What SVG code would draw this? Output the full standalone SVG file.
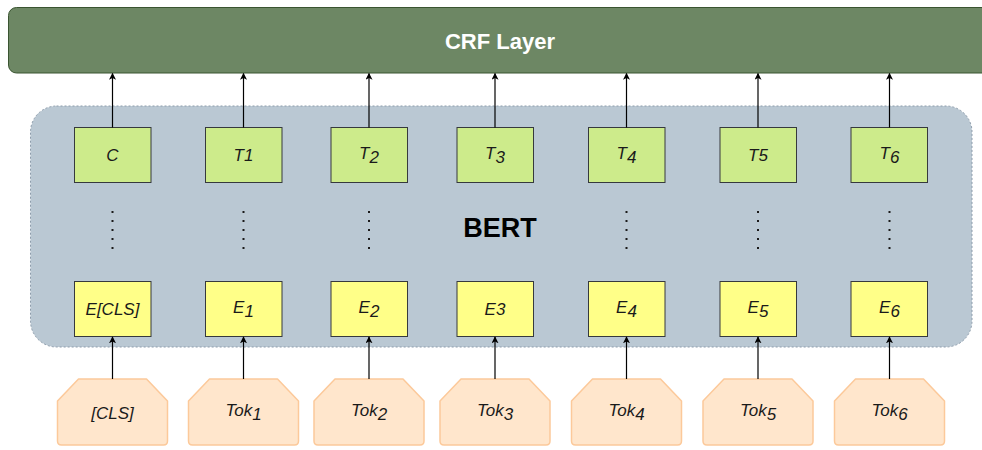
<svg xmlns="http://www.w3.org/2000/svg" width="982" height="450" viewBox="0 0 982 450">
<style>
.lbl{font-family:"Liberation Sans",Arial,sans-serif;font-style:italic;font-size:17px;fill:#1a1a1a;text-anchor:middle}
.t{fill:#cdeb8b;stroke:#36393d;stroke-width:1}
.e{fill:#ffff88;stroke:#36393d;stroke-width:1}
.tok{fill:#ffe6cc;stroke:#fcc99a;stroke-width:1.5;stroke-linejoin:round}
.conn{stroke:#000;stroke-width:1.2;fill:none;marker-end:url(#ah)}
.dots{stroke:#1a1a1a;stroke-width:2;stroke-dasharray:2 7;fill:none}
</style>
<defs>
<marker id="ah" viewBox="0 0 10 10" refX="9" refY="5" markerWidth="7" markerHeight="7" markerUnits="userSpaceOnUse" orient="auto">
<path d="M0,0 L10,5 L0,10 L2.5,5 Z" fill="#000"/>
</marker>
</defs>
<rect width="982" height="450" fill="#fff"/>
<g id="crf">
<rect x="8.5" y="7.5" width="990" height="65.5" rx="8" fill="#6d8764" stroke="#3a5431" stroke-width="1"/>
<text x="500" y="49" font-family="'Liberation Sans',Arial,sans-serif" font-weight="bold" font-size="22" fill="#fff" text-anchor="middle">CRF Layer</text>
</g>
<g id="bert">
<rect x="30.5" y="106" width="941.5" height="241" rx="26" fill="#bac8d3" stroke="#8d9cab" stroke-width="1" stroke-dasharray="2 2"/>
<text x="500" y="237" font-family="'Liberation Sans',Arial,sans-serif" font-weight="bold" font-size="27" fill="#000" text-anchor="middle">BERT</text>
</g>
<g id="dots">
<line class="dots" x1="112.5" y1="211" x2="112.5" y2="249"/>
<line class="dots" x1="243.5" y1="211" x2="243.5" y2="249"/>
<line class="dots" x1="369" y1="211" x2="369" y2="249"/>
<line class="dots" x1="626.5" y1="211" x2="626.5" y2="249"/>
<line class="dots" x1="758" y1="211" x2="758" y2="249"/>
<line class="dots" x1="889.5" y1="211" x2="889.5" y2="249"/>
</g>
<g id="t-c"><rect class="t" x="74.5" y="127.5" width="76.5" height="55"/><text class="lbl" x="112.5" y="161">C</text></g>
<g id="t-1"><rect class="t" x="205.5" y="127.5" width="76.5" height="55"/><text class="lbl" x="243.5" y="161">T1</text></g>
<g id="t-2"><rect class="t" x="331" y="127.5" width="76.5" height="55"/><text class="lbl" x="369" y="159">T<tspan dy="4">2</tspan></text></g>
<g id="t-3"><rect class="t" x="457" y="127.5" width="76.5" height="55"/><text class="lbl" x="495" y="159">T<tspan dy="4">3</tspan></text></g>
<g id="t-4"><rect class="t" x="588.5" y="127.5" width="76.5" height="55"/><text class="lbl" x="626.5" y="159">T<tspan dy="4">4</tspan></text></g>
<g id="t-5"><rect class="t" x="720" y="127.5" width="76.5" height="55"/><text class="lbl" x="758" y="161">T5</text></g>
<g id="t-6"><rect class="t" x="851" y="127.5" width="76.5" height="55"/><text class="lbl" x="889.5" y="159">T<tspan dy="4">6</tspan></text></g>
<g id="e-cls"><rect class="e" x="74.5" y="281.5" width="76.5" height="55"/><text class="lbl" x="112.5" y="314.5">E[CLS]</text></g>
<g id="e-1"><rect class="e" x="205.5" y="281.5" width="76.5" height="55"/><text class="lbl" x="243.5" y="313">E<tspan dy="4">1</tspan></text></g>
<g id="e-2"><rect class="e" x="331" y="281.5" width="76.5" height="55"/><text class="lbl" x="369" y="313">E<tspan dy="4">2</tspan></text></g>
<g id="e-3"><rect class="e" x="457" y="281.5" width="76.5" height="55"/><text class="lbl" x="495" y="314.5">E3</text></g>
<g id="e-4"><rect class="e" x="588.5" y="281.5" width="76.5" height="55"/><text class="lbl" x="626.5" y="313">E<tspan dy="4">4</tspan></text></g>
<g id="e-5"><rect class="e" x="720" y="281.5" width="76.5" height="55"/><text class="lbl" x="758" y="313">E<tspan dy="4">5</tspan></text></g>
<g id="e-6"><rect class="e" x="851" y="281.5" width="76.5" height="55"/><text class="lbl" x="889.5" y="313">E<tspan dy="4">6</tspan></text></g>
<g id="tok-cls"><path class="tok" d="M57.5,401 L78.5,379 L146.5,379 L167.5,401 L167.5,441 Q167.5,445 163.5,445 L61.5,445 Q57.5,445 57.5,441 Z"/><text class="lbl" x="112.5" y="419">[CLS]</text></g>
<g id="tok-1"><path class="tok" d="M188.5,401 L209.5,379 L277.5,379 L298.5,401 L298.5,441 Q298.5,445 294.5,445 L192.5,445 Q188.5,445 188.5,441 Z"/><text class="lbl" x="243.5" y="416">Tok<tspan dy="4">1</tspan></text></g>
<g id="tok-2"><path class="tok" d="M314,401 L335,379 L403,379 L424,401 L424,441 Q424,445 420,445 L318,445 Q314,445 314,441 Z"/><text class="lbl" x="369" y="416">Tok<tspan dy="4">2</tspan></text></g>
<g id="tok-3"><path class="tok" d="M440,401 L461,379 L529,379 L550,401 L550,441 Q550,445 546,445 L444,445 Q440,445 440,441 Z"/><text class="lbl" x="495" y="416">Tok<tspan dy="4">3</tspan></text></g>
<g id="tok-4"><path class="tok" d="M571.5,401 L592.5,379 L660.5,379 L681.5,401 L681.5,441 Q681.5,445 677.5,445 L575.5,445 Q571.5,445 571.5,441 Z"/><text class="lbl" x="626.5" y="416">Tok<tspan dy="4">4</tspan></text></g>
<g id="tok-5"><path class="tok" d="M703,401 L724,379 L792,379 L813,401 L813,441 Q813,445 809,445 L707,445 Q703,445 703,441 Z"/><text class="lbl" x="758" y="416">Tok<tspan dy="4">5</tspan></text></g>
<g id="tok-6"><path class="tok" d="M834.5,401 L855.5,379 L923.5,379 L944.5,401 L944.5,441 Q944.5,445 940.5,445 L838.5,445 Q834.5,445 834.5,441 Z"/><text class="lbl" x="889.5" y="416">Tok<tspan dy="4">6</tspan></text></g>
<g id="connectors">
<line class="conn" x1="112.5" y1="127.5" x2="112.5" y2="73.5"/>
<line class="conn" x1="243.5" y1="127.5" x2="243.5" y2="73.5"/>
<line class="conn" x1="369" y1="127.5" x2="369" y2="73.5"/>
<line class="conn" x1="495" y1="127.5" x2="495" y2="73.5"/>
<line class="conn" x1="626.5" y1="127.5" x2="626.5" y2="73.5"/>
<line class="conn" x1="758" y1="127.5" x2="758" y2="73.5"/>
<line class="conn" x1="889.5" y1="127.5" x2="889.5" y2="73.5"/>
<line class="conn" x1="112.5" y1="379" x2="112.5" y2="337"/>
<line class="conn" x1="243.5" y1="379" x2="243.5" y2="337"/>
<line class="conn" x1="369" y1="379" x2="369" y2="337"/>
<line class="conn" x1="495" y1="379" x2="495" y2="337"/>
<line class="conn" x1="626.5" y1="379" x2="626.5" y2="337"/>
<line class="conn" x1="758" y1="379" x2="758" y2="337"/>
<line class="conn" x1="889.5" y1="379" x2="889.5" y2="337"/>
</g>
</svg>
